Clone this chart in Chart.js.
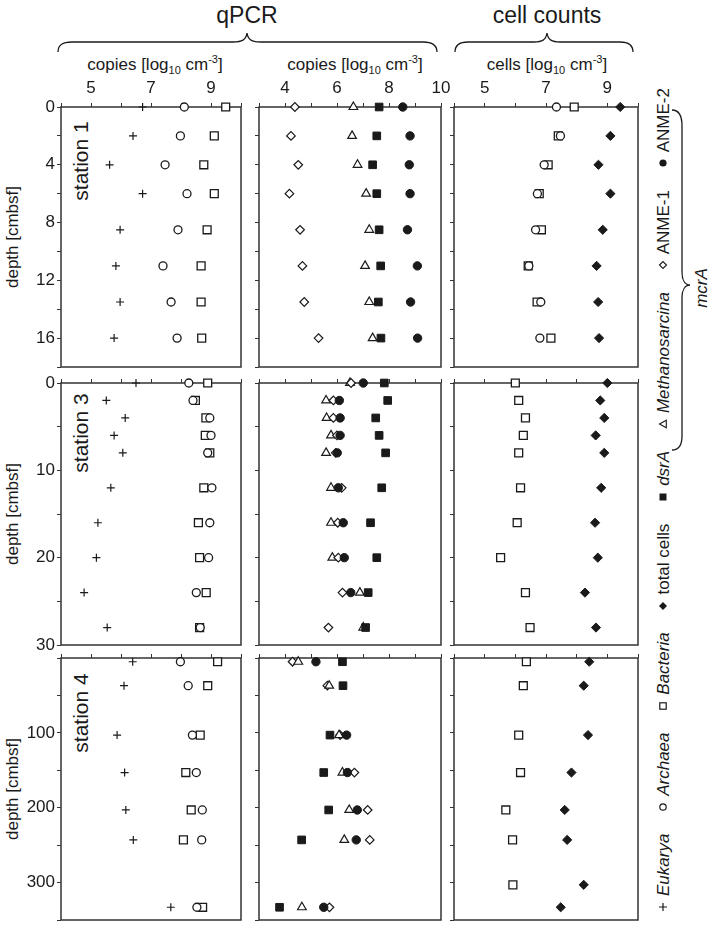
<!DOCTYPE html>
<html>
<head>
<meta charset="utf-8">
<script src="https://cdn.jsdelivr.net/npm/chart.js@4.4.1/dist/chart.umd.min.js"></script>
<style>
  body { margin: 0; background: #fff; font-family: "Liberation Sans", Arial, sans-serif; color: #1a1a1a; }
  #page { position: relative; width: 709px; height: 925px; overflow: hidden; }
  canvas { position: absolute; }
  .t { position: absolute; white-space: nowrap; line-height: 1; transform: translate(-50%, -50%); }
  .rot { transform: translate(-50%, -50%) rotate(-90deg); }
  #legend { position: absolute; display: flex; justify-content: space-between; align-items: center;
            font-size: 17px; line-height: 1; white-space: nowrap; transform: rotate(-90deg); }
  #legend > span { display: flex; align-items: center; }
  #legend svg.g { position: static; width: 10px; height: 10px; margin-right: 6px; overflow: visible; }
  svg.br { position: absolute; left: 0; top: 0; }
</style>
</head>
<body>
<div id="page">
  <svg class="br" width="709" height="925" fill="none" stroke="#1a1a1a" stroke-width="1.3">
    <path d="M58,52 C58,45 62,42 72,42 L233,42 C242,42 246,40 247,33 C248,40 252,42 261,42 L423,42 C432,42 437,45 437,52"/>
    <path d="M455,52 C455,45 459,42 468,42 L534,42 C542,42 546,40 547,33 C548,40 552,42 560,42 L620,42 C629,42 633,45 633,52"/>
    <path d="M672,110 C679,110 682,116 682,126 L682,272 C682,280 685,285 690,285 C685,285 682,290 682,298 L682,436 C682,445 679,450 672,450"/>
  </svg>

  <div class="t" style="left:247px;top:15px;font-size:23px">qPCR</div>
  <div class="t" style="left:547px;top:15px;font-size:23px">cell counts</div>
  <div class="t" style="left:155px;top:65px;font-size:17px">copies [log<sub style="font-size:11px">10</sub> cm<sup style="font-size:11px">-3</sup>]</div>
  <div class="t" style="left:355px;top:65px;font-size:17px">copies [log<sub style="font-size:11px">10</sub> cm<sup style="font-size:11px">-3</sup>]</div>
  <div class="t" style="left:547px;top:65px;font-size:17px">cells [log<sub style="font-size:11px">10</sub> cm<sup style="font-size:11px">-3</sup>]</div>

  <div class="t rot" style="left:12px;top:237px;font-size:17px">depth [cmbsf]</div>
  <div class="t rot" style="left:12px;top:514px;font-size:17px">depth [cmbsf]</div>
  <div class="t rot" style="left:12px;top:789px;font-size:17px">depth [cmbsf]</div>

  <div class="t rot" style="left:80px;top:161px;font-size:21px">station 1</div>
  <div class="t rot" style="left:80px;top:433px;font-size:21px">station 3</div>
  <div class="t rot" style="left:80px;top:713px;font-size:21px">station 4</div>

  <div id="legend" style="left:251px;top:490px;width:824px;height:20px">
    <span><svg class="g" viewBox="0 0 10 10"><path d="M5,1V9M1,5H9" stroke="#1a1a1a" stroke-width="1.2"/></svg><i>Eukarya</i></span>
    <span><svg class="g" viewBox="0 0 10 10"><circle cx="5" cy="5" r="3.2" fill="#fff" stroke="#1a1a1a" stroke-width="1.2"/></svg><i>Archaea</i></span>
    <span><svg class="g" viewBox="0 0 10 10"><rect x="1.8" y="1.8" width="6.4" height="6.4" fill="#fff" stroke="#1a1a1a" stroke-width="1.2"/></svg><i>Bacteria</i></span>
    <span><svg class="g" viewBox="0 0 10 10"><path d="M5,1L9,5L5,9L1,5Z" fill="#1a1a1a"/></svg>total cells</span>
    <span><svg class="g" viewBox="0 0 10 10"><rect x="1.5" y="1.5" width="7" height="7" fill="#1a1a1a"/></svg><i>dsrA</i></span>
    <span><svg class="g" viewBox="0 0 10 10"><path d="M5,1.5L8.8,8.3H1.2Z" fill="#fff" stroke="#1a1a1a" stroke-width="1.1"/></svg><i>Methanosarcina</i></span>
    <span><svg class="g" viewBox="0 0 10 10"><path d="M5,1.5L8.5,5L5,8.5L1.5,5Z" fill="#fff" stroke="#1a1a1a" stroke-width="1.1"/></svg>ANME-1</span>
    <span><svg class="g" viewBox="0 0 10 10"><circle cx="5" cy="5" r="3.6" fill="#1a1a1a"/></svg>ANME-2</span>
  </div>
  <div class="t rot" style="left:701px;top:288px;font-size:17px"><i>mcrA</i></div>
</div>

<script>
// depths [cmbsf]
const depth1 = [0, 2, 4, 6, 8.5, 11, 13.5, 16];
const depth3 = [0, 2, 4, 6, 8, 12, 16, 20, 24, 28];
const depth4 = [5, 37, 103, 153, 203, 243, 333];
const cellDepth4 = [5, 37, 103, 153, 203, 243, 303, 333];

// qPCR 16S rRNA genes [log10 copies cm-3]
const eukarya1 = [6.72, 6.4, 5.62, 6.72, 5.97, 5.83, 5.97, 5.77];
const archaea1 = [8.11, 7.98, 7.47, 8.2, 7.9, 7.4, 7.67, 7.87];
const bacteria1 = [9.49, 9.11, 8.76, 9.11, 8.87, 8.67, 8.67, 8.69];
const eukarya3 = [6.5, 5.51, 6.14, 5.77, 6.06, 5.66, 5.23, 5.18, 4.77, 5.54];
const archaea3 = [8.26, 8.4, 8.96, 9.0, 8.89, 9.03, 8.96, 8.92, 8.51, 8.64];
const bacteria3 = [8.89, 8.48, 8.83, 8.81, 8.96, 8.76, 8.58, 8.62, 8.84, 8.62];
const eukarya4 = [6.39, 6.1, 5.87, 6.12, 6.16, 6.41, 7.66];
const archaea4 = [7.98, 8.24, 8.38, 8.51, 8.71, 8.69, 8.53];
const bacteria4 = [9.22, 8.89, 8.64, 8.16, 8.34, 8.08, 8.72];

// qPCR functional genes [log10 copies cm-3]
const anme1_1 = [4.38, 4.23, 4.51, 4.17, 4.58, 4.67, 4.74, 5.29];
const methano1 = [6.63, 6.58, 6.79, 7.12, 7.24, 7.08, 7.24, 7.37];
const dsrA1 = [7.62, 7.53, 7.37, 7.53, 7.62, 7.68, 7.59, 7.69];
const anme2_1 = [8.53, 8.81, 8.78, 8.81, 8.71, 9.09, 8.83, 9.1];
const anme1_3 = [6.54, 5.86, 5.86, 6.0, 5.95, 6.18, 6.03, 6.05, 6.21, 5.67];
const methano3 = [6.5, 5.58, 5.6, 5.77, 5.58, 5.77, 5.77, 5.82, 6.88, 7.01];
const dsrA3 = [7.82, 7.95, 7.49, 7.62, 7.87, 7.72, 7.29, 7.53, 7.2, 7.1];
const anme2_3 = [7.01, 6.09, 6.12, 6.12, 6.01, 6.05, 6.24, 6.28, 6.53, null];
const anme1_4 = [4.29, 5.63, 6.12, 6.67, 7.18, 7.26, 5.71];
const methano4 = [4.51, 5.7, 6.08, 6.21, 6.47, 6.28, 4.65];
const dsrA4 = [6.21, 6.23, 5.73, 5.49, 5.68, 4.64, 3.79];
const anme2_4 = [5.19, null, 6.37, 6.4, 6.78, 6.74, 5.49];

// cell counts [log10 cells cm-3]
const cellArch1 = [7.34, 7.47, 6.94, 6.72, 6.66, 6.44, 6.83, 6.8];
const cellBact1 = [7.92, 7.4, 7.07, 6.78, 6.85, 6.42, 6.71, 7.16];
const total1 = [9.42, 9.1, 8.71, 9.1, 8.85, 8.65, 8.7, 8.73];
const cellBact3 = [6.0, 6.11, 6.33, 6.26, 6.11, 6.17, 6.06, 5.52, 6.33, 6.48];
const total3 = [9.0, 8.77, 8.9, 8.62, 8.9, 8.8, 8.6, 8.69, 8.27, 8.63];
const cellBact4 = [6.36, 6.26, 6.11, 6.17, 5.69, 5.91, 5.92, null];
const total4 = [8.41, 8.23, 8.37, 7.83, 7.61, 7.69, 8.23, 7.48];

// tick labels
const xLabels1 = [5, 7, 9];
const xLabels2 = [4, 6, 8, 10];
const xLabels3 = [5, 7, 9];
const depthLabels1 = [0, 4, 8, 12, 16];
const depthLabels3 = [0, 10, 20, 30];
const depthLabels4 = [100, 200, 300];

const INK = '#1a1a1a';
const FONT = '"Liberation Sans", Arial, sans-serif';
const AX = 44, TOPH = 32, PADR = 14, PADB = 14;

const cols = [
  {left: 61, width: 180, min: 4, max: 10, labels: xLabels1},
  {left: 259, width: 182, min: 3, max: 10, labels: xLabels2},
  {left: 454, width: 184, min: 4, max: 10, labels: xLabels3}
];
const rows = [
  {top: 107, height: 260, max: 18, step: 2, labels: depthLabels1},
  {top: 383, height: 262, max: 30, step: 5, labels: depthLabels3},
  {top: 658, height: 262, max: 350, step: 50, labels: depthLabels4}
];

const marks = {
  eukarya:  {pointStyle: 'cross', radius: 4, fill: INK, bw: 1.2},
  archaea:  {pointStyle: 'circle', radius: 4, fill: '#fff', bw: 1.3},
  bacteria: {pointStyle: 'rect', radius: 5.6, fill: '#fff', bw: 1.3},
  anme1:    {pointStyle: 'rectRot', radius: 4.3, fill: '#fff', bw: 1.2},
  methano:  {pointStyle: 'triangle', radius: 5, fill: '#fff', bw: 1.2},
  dsrA:     {pointStyle: 'rect', radius: 5.4, fill: INK, bw: 1},
  anme2:    {pointStyle: 'circle', radius: 4.2, fill: INK, bw: 1},
  total:    {pointStyle: 'rectRot', radius: 4.6, fill: INK, bw: 1}
};

function series(kind, values, depths) {
  const m = marks[kind];
  const data = values.map((v, i) => v == null ? null : {x: v, y: depths[i]}).filter(Boolean);
  return {
    data: data,
    pointStyle: m.pointStyle,
    pointRadius: m.radius,
    pointBackgroundColor: m.fill,
    pointBorderColor: INK,
    pointBorderWidth: m.bw,
    showLine: false,
    clip: false
  };
}

const frame = {
  id: 'frame',
  beforeDatasetsDraw(chart) {
    const a = chart.chartArea, ctx = chart.ctx;
    ctx.save();
    ctx.strokeStyle = '#333';
    ctx.lineWidth = 1.5;
    ctx.strokeRect(a.left, a.top, a.right - a.left, a.bottom - a.top);
    ctx.restore();
  }
};

const panels = [
  [
    [series('eukarya', eukarya1, depth1), series('archaea', archaea1, depth1), series('bacteria', bacteria1, depth1)],
    [series('anme2', anme2_1, depth1), series('dsrA', dsrA1, depth1), series('methano', methano1, depth1), series('anme1', anme1_1, depth1)],
    [series('total', total1, depth1), series('archaea', cellArch1, depth1), series('bacteria', cellBact1, depth1)]
  ],
  [
    [series('eukarya', eukarya3, depth3), series('archaea', archaea3, depth3), series('bacteria', bacteria3, depth3)],
    [series('anme2', anme2_3, depth3), series('dsrA', dsrA3, depth3), series('anme1', anme1_3, depth3), series('methano', methano3, depth3)],
    [series('total', total3, depth3), series('bacteria', cellBact3, depth3)]
  ],
  [
    [series('eukarya', eukarya4, depth4), series('archaea', archaea4, depth4), series('bacteria', bacteria4, depth4)],
    [series('anme2', anme2_4, depth4), series('dsrA', dsrA4, depth4), series('methano', methano4, depth4), series('anme1', anme1_4, depth4)],
    [series('total', total4, cellDepth4), series('bacteria', cellBact4, cellDepth4)]
  ]
];

const page = document.getElementById('page');

rows.forEach((row, r) => {
  cols.forEach((col, c) => {
    const cv = document.createElement('canvas');
    const w = col.width + AX + PADR, h = row.height + TOPH + PADB;
    cv.width = w;
    cv.height = h;
    cv.style.left = (col.left - AX) + 'px';
    cv.style.top = (row.top - TOPH) + 'px';
    cv.style.width = w + 'px';
    cv.style.height = h + 'px';
    page.appendChild(cv);

    new Chart(cv, {
      type: 'scatter',
      data: {datasets: panels[r][c]},
      options: {
        responsive: false,
        animation: false,
        layout: {padding: {left: 0, top: 0, right: PADR, bottom: PADB}},
        plugins: {legend: {display: false}, tooltip: {enabled: false}},
        scales: {
          x: {
            type: 'linear', position: 'top', min: col.min, max: col.max,
            afterFit: s => { s.height = TOPH; },
            grid: {drawOnChartArea: false, drawTicks: true, tickLength: 4, color: '#333'},
            border: {display: false},
            ticks: {
              stepSize: 1, autoSkip: false, maxRotation: 0, padding: 4, color: INK,
              font: {family: FONT, size: 17},
              callback: v => (r === 0 && col.labels.includes(v)) ? String(v) : ''
            }
          },
          y: {
            type: 'linear', reverse: true, min: 0, max: row.max,
            afterFit: s => { s.width = AX; },
            grid: {drawOnChartArea: false, drawTicks: true, tickLength: 4, color: '#333'},
            border: {display: false},
            ticks: {
              stepSize: row.step, autoSkip: false, padding: 2, color: INK,
              font: {family: FONT, size: 17},
              callback: v => (c === 0 && row.labels.includes(v)) ? String(v) : ''
            }
          }
        }
      },
      plugins: [frame]
    });
  });
});
</script>
</body>
</html>
